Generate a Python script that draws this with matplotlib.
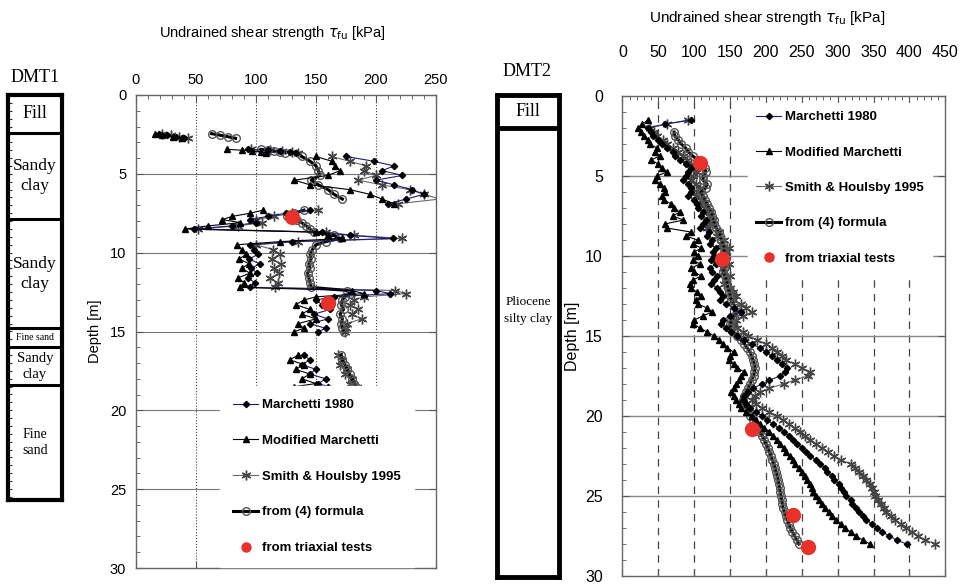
import numpy as np
import matplotlib
matplotlib.use('Agg')
import matplotlib.pyplot as plt
from matplotlib.ticker import MultipleLocator

plt.rcParams['font.family'] = ['Liberation Sans', 'DejaVu Sans']
nan = np.nan

# ---- DMT1 (left chart) ----
depth1 = [2.45, 2.55, 2.65, 2.75, nan,
          3.45, 3.5, 3.55, 3.6, 3.65, nan,
          3.9, 4.2, 4.5, 4.8, 5.1, 5.4, 5.7, 6.0, 6.3, 6.6, 6.9, nan,
          7.3, 7.5, 7.7, 7.9, 8.1, 8.3, 8.5,
          8.7, 8.9, 9.1, 9.3, 9.5, 9.8, 10.1, 10.4, 10.7, 11.0, 11.3, 11.6, 11.9, 12.2,
          12.4, 12.6, 12.8, 13.0, 13.3, 13.6, 13.9, 14.2, 14.5, 14.8, 15.0, nan,
          16.5, 16.8, 17.1, 17.4, 17.7, 18.0, 18.3, 18.5]
march1 = [19, 26, 33, 40, nan,
          93, 110, 120, 128, 133, nan,
          175, 198, 215, 205, 222, 200, 215, 230, 240, 225, 210, nan,
          145, 125, 110, 95, 100, 80, 48,
          155, 178, 214, 130, 95, 98, 102, 94, 103, 96, 101, 93, 99, 95,
          200, 212, 165, 150, 155, 162, 148, 160, 145, 158, 152, nan,
          140, 145, 138, 150, 145, 158, 152, 160]
modif1 = [16, 22, 31, 38, nan,
          76, 88, 97, 104, 108, nan,
          150, 163, 166, 170, 160, 132, 145, 178, 195, 205, 215, nan,
          106, 95, 80, 72, 87, 60, 41,
          150, 160, 172, 120, 84, 88, 92, 86, 94, 88, 95, 85, 90, 87,
          180, 190, 150, 140, 133, 145, 138, 150, 135, 140, 132, nan,
          135, 128, 140, 133, 145, 138, 150, 132]
smith1 = [22, 29, 36, 43, nan,
          96, 112, 122, 130, 135, nan,
          163, 178, 192, 190, 200, 185, 205, 228, 240, 253, 218, nan,
          152, 130, 115, 100, 105, 85, 52,
          158, 182, 222, 135, 100, 114, 120, 113, 121, 115, 119, 112, 118, 116,
          216, 225, 190, 182, 178, 185, 180, 188, 176, 175, 174, nan,
          168, 172, 170, 176, 174, 180, 178, 184]
form1 = [63, 70, 77, 83, nan,
         104, 110, 115, 120, 124, nan,
         138, 145, 150, 152, 153, 146, 152, 160, 165, 172, nan, nan,
         140, 132, 126, 134, 138, 142, 145,
         148, 165, 170, 158, 150, 147, 145, 146, 144, 145, 143, 144, 145, 146,
         176, 178, 174, 172, 171, 173, 170, 172, 171, 172, 173, nan,
         171, 172, 174, 176, 178, 180, 182, 183]
triax1_v = [130, 160]
triax1_d = [7.75, 13.2]

layers1_top = [0, 2.4, 7.9, 14.8, 16.0, 18.4]
layers1_bot = [2.4, 7.9, 14.8, 16.0, 18.4, 25.7]
layers1_name = ['Fill', 'Sandy\nclay', 'Sandy\nclay', 'Fine sand', 'Sandy\nclay', 'Fine\nsand']
layers1_size = [13, 12.5, 12.5, 7, 10.5, 10]

# ---- DMT2 (right chart) ----
depth2 = [1.5, 1.75, 2.0, 2.25, 2.5, 2.75, 3.0, 3.25, 3.5, 3.75,
          4.0, 4.25, 4.5, 4.75, 5.0, 5.25, 5.5, 5.75, 6.0, 6.25,
          6.5, 6.75, 7.0, 7.25, 7.5, 7.75, 8.0, 8.25, 8.5, 8.75,
          9.0, 9.25, 9.5, 9.75, 10.0, 10.25, 10.5, 10.75, 11.0, 11.25,
          11.5, 11.75, 12.0, 12.25, 12.5, 12.75, 13.0, 13.25, 13.5, 13.75,
          14.0, 14.25, 14.5, 14.75, 15.0, 15.25, 15.5, 15.75, 16.0, 16.25,
          16.5, 16.75, 17.0, 17.25, 17.5, 17.75, 18.0, 18.25, 18.5, 18.75,
          19.0, 19.25, 19.5, 19.75, 20.0, 20.25, 20.5, 20.75, 21.0, 21.25,
          21.5, 21.75, 22.0, 22.25, 22.5, 22.75, 23.0, 23.25, 23.5, 23.75,
          24.0, 24.25, 24.5, 24.75, 25.0, 25.25, 25.5, 25.75, 26.0, 26.25,
          26.5, 26.75, 27.0, 27.25, 27.5, 27.75, 28.0]
march2 = [96, 60, 35, 40, 42, 50, 55, 62, 70, 74,
          80, 88, 95, 92, 88, 85, 92, 96, 95, 92,
          100, 104, 105, 112, 110, 116, 112, 108, 120, 118,
          125, 122, 130, 126, 128, 124, 130, 122, 125, 132,
          128, 124, 132, 136, 140, 136, 145, 155, 165, 150,
          140, 138, 145, 152, 160, 170, 180, 192, 200, 208,
          215, 222, 230, 226, 220, 205, 195, 182, 175, 170,
          168, 172, 178, 186, 195, 202, 210, 218, 225, 232,
          238, 244, 250, 256, 262, 270, 275, 282, 285, 292,
          295, 302, 305, 309, 312, 318, 320, 326, 330, 336,
          340, 348, 355, 362, 372, 382, 396]
modif2 = [36, 28, 22, 26, 30, 35, 38, 48, 45, 52,
          40, 50, 55, 62, 48, 45, 52, 58, 60, 55,
          58, 68, 72, 80, 70, 85, 59, 62, 95, 88,
          105, 98, 110, 100, 105, 98, 108, 96, 100, 110,
          98, 94, 95, 104, 110, 102, 105, 118, 125, 112,
          100, 99, 108, 118, 128, 135, 140, 146, 155, 150,
          148, 156, 160, 170, 165, 162, 158, 155, 152, 155,
          158, 162, 165, 172, 180, 186, 192, 198, 205, 210,
          215, 220, 225, 228, 233, 238, 240, 246, 250, 255,
          257, 261, 264, 266, 270, 274, 278, 283, 288, 292,
          298, 304, 310, 318, 325, 335, 345]
smith2 = [92, 62, 38, 44, 48, 56, 62, 70, 78, 84,
          90, 96, 100, 104, 98, 96, 102, 108, 105, 102,
          110, 114, 115, 122, 120, 126, 122, 118, 135, 132,
          142, 138, 148, 144, 145, 140, 148, 140, 142, 150,
          145, 142, 150, 154, 158, 154, 165, 172, 180, 168,
          158, 156, 160, 168, 175, 188, 200, 208, 215, 222,
          228, 240, 250, 262, 258, 240, 225, 205, 192, 185,
          180, 186, 195, 205, 215, 224, 232, 240, 248, 255,
          262, 270, 278, 286, 295, 305, 318, 324, 330, 336,
          340, 345, 348, 350, 352, 356, 360, 364, 368, 374,
          380, 388, 395, 404, 412, 422, 436]
form2 = [nan, nan, nan, 72, 73, 78, 82, 88, 92, 98,
         105, 110, 115, 116, 113, 112, 118, 116, 110, 112,
         115, 118, 120, 124, 125, 127, 128, 131, 135, 136,
         138, 140, 142, 141, 140, 141, 143, 141, 140, 143,
         145, 146, 147, 149, 150, 152, 155, 158, 160, 156,
         152, 150, 150, 155, 160, 165, 170, 174, 178, 180,
         182, 184, 185, 184, 183, 180, 178, 175, 172, 170,
         168, 170, 172, 175, 178, 182, 185, 188, 192, 195,
         198, 200, 203, 205, 207, 209, 211, 213, 214, 216,
         217, 218, 219, 220, 221, 222, 223, 224, 226, 228,
         230, 232, 234, 237, 240, 243, 246]
triax2_v = [108, 139, 180, 238, 259]
triax2_d = [4.2, 10.2, 20.8, 26.2, 28.2]

labels = ['Marchetti 1980', 'Modified Marchetti', 'Smith & Houlsby 1995',
          'from (4) formula', 'from triaxial tests']
title = r'Undrained shear strength $\tau_{\rm fu}$ [kPa]'

W, H = 965, 585
fig = plt.figure(figsize=(W / 100, H / 100), dpi=100)


def px_axes(x0, y0, x1, y1):
    return fig.add_axes([x0 / W, 1 - y1 / H, (x1 - x0) / W, (y1 - y0) / H])


def draw_series(ax, d, m, t, s, f, tv, td):
    ax.plot(m, d, color='#1c1c78', lw=0.8, marker='D', ms=3.2, mfc='black', mec='black',
            label=labels[0], zorder=4)
    ax.plot(t, d, color='black', lw=0.8, marker='^', ms=5, mfc='black', mec='black',
            label=labels[1], zorder=4)
    ax.plot(s, d, color='#666666', lw=0.8, marker=(6, 2, 0), ms=7, mec='#444444',
            label=labels[2], zorder=3)
    ax.plot(f, d, color='black', lw=2.2, marker='o', ms=5.5, mfc='none', mec='#555555',
            label=labels[3], zorder=3)
    ax.plot(tv, td, ls='none', marker='o', ms=10, color='#e8312a', mec='#e8312a',
            label=labels[4], zorder=6)


def style_axes(ax, xmax, xstep, xpad, ypad, fs):
    ax.set_xlim(0, xmax)
    ax.set_ylim(30, 0)
    ax.xaxis.set_major_locator(MultipleLocator(xstep))
    ax.xaxis.set_minor_locator(MultipleLocator(10))
    ax.yaxis.set_major_locator(MultipleLocator(5))
    ax.yaxis.set_minor_locator(MultipleLocator(1))
    ax.xaxis.tick_top()
    ax.tick_params(which='both', direction='in', top=True, bottom=True, left=True, right=True,
                   color='#555555')
    ax.tick_params(which='major', length=5)
    ax.tick_params(which='minor', length=3, bottom=False, right=False)
    ax.tick_params(axis='x', which='major', pad=xpad, labelsize=fs)
    ax.tick_params(axis='y', which='major', pad=ypad, labelsize=fs)
    for sp in ax.spines.values():
        sp.set_color('#666666')
        sp.set_linewidth(1.0)
    ax.set_ylabel('Depth [m]', fontsize=fs)


def add_legend(ax, anchor, spacing, pad):
    leg = ax.legend(loc='upper left', bbox_to_anchor=anchor, borderaxespad=0,
                    frameon=True, facecolor='white', edgecolor='white', framealpha=1,
                    fancybox=False, labelspacing=spacing, handlelength=1.9,
                    handletextpad=0.3, borderpad=pad, prop={'weight': 'bold', 'size': 9.5})
    leg.legend_handles[4].set_markersize(6.5)
    leg.set_zorder(5)
    return leg


# left chart
ax1 = px_axes(136, 95, 436, 568)
style_axes(ax1, 250, 50, 6, 7, 10.5)
for v in [50, 100, 150, 200]:
    ax1.axvline(v, color='#444444', lw=0.8, ls=':', zorder=1)
for d in [5, 10, 15, 20, 25]:
    ax1.axhline(d, color='#777777', lw=0.8, zorder=1)
draw_series(ax1, depth1, march1, modif1, smith1, form1, triax1_v, triax1_d)
add_legend(ax1, (0.28, 0.385), 1.78, 1.0)
ax1.yaxis.labelpad = 6
fig.text(272 / W, 1 - 33 / H, title, ha='center', va='center', fontsize=10.5)

# right chart
ax2 = px_axes(622.4, 96, 945.3, 576)
style_axes(ax2, 450, 50, 26, 14, 11.5)
for v in range(50, 450, 50):
    ax2.axvline(v, color='#444444', lw=0.9, ls=(0, (6, 5)), zorder=1)
for d in [5, 10, 15, 20, 25]:
    ax2.axhline(d, color='#888888', lw=1.0, zorder=1)
draw_series(ax2, depth2, march2, modif2, smith2, form2, triax2_v, triax2_d)
add_legend(ax2, (0.39, 0.985), 1.75, 0.6)
ax2.yaxis.labelpad = 4
fig.text(767 / W, 1 - 18 / H, title, ha='center', va='center', fontsize=11)

# DMT1 soil column
col1 = px_axes(8, 95, 62, 500)
col1.set_xlim(0, 1)
col1.set_ylim(25.7, 0)
col1.set_xticks([])
col1.yaxis.set_major_locator(MultipleLocator(0.5))
col1.tick_params(axis='y', direction='in', length=3, labelleft=False, color='#333333')
for sp in col1.spines.values():
    sp.set_linewidth(3)
for top, bot, name, fs in zip(layers1_top, layers1_bot, layers1_name, layers1_size):
    if top > 0:
        col1.axhline(top, color='black', lw=2.2)
    col1.text(0.5, (top + bot) / 2, name, ha='center', va='center', fontsize=fs,
              family='Liberation Serif', linespacing=1.3)
fig.text(35 / W, 1 - 78 / H, 'DMT1', ha='center', va='center', fontsize=13,
         family='Liberation Serif')

# DMT2 soil column
col2 = px_axes(497, 95, 559, 577)
col2.set_xlim(0, 1)
col2.set_ylim(30, 0)
col2.set_xticks([])
col2.set_yticks([])
for sp in col2.spines.values():
    sp.set_linewidth(3.5)
col2.axhline(2.05, color='black', lw=3.5)
col2.text(0.5, 1.05, 'Fill', ha='center', va='center', fontsize=13, family='Liberation Serif')
col2.text(0.5, 13.4, 'Pliocene\nsilty clay', ha='center', va='center', fontsize=9.5,
          family='Liberation Serif', linespacing=1.5)
fig.text(527 / W, 1 - 72 / H, 'DMT2', ha='center', va='center', fontsize=13,
         family='Liberation Serif')

fig.savefig('out.png', dpi=100)
